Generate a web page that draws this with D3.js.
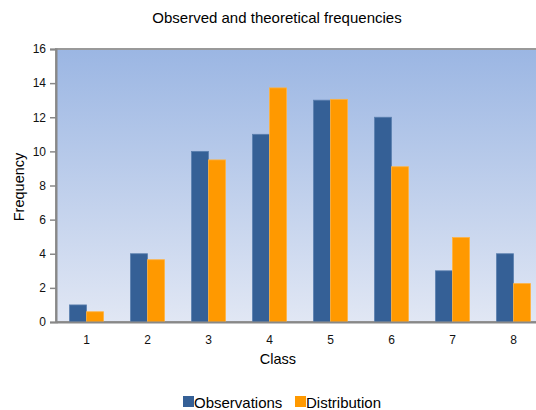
<!DOCTYPE html>
<html>
<head>
<meta charset="utf-8">
<script src="https://cdn.jsdelivr.net/npm/d3@7"></script>
<style>
  body { margin: 0; background: #fff; }
  svg { font-family: "Liberation Sans", Arial, sans-serif; display: block; }
</style>
</head>
<body>
<svg id="root" width="536" height="410"></svg>
<script>
//Chart data
const classes = ["1", "2", "3", "4", "5", "6", "7", "8"];
const observations = [1, 4, 10, 11, 13, 12, 3, 4];
const distribution = [0.6, 3.65, 9.5, 13.72, 13.05, 9.1, 4.95, 2.25];
const yTicks = [0, 2, 4, 6, 8, 10, 12, 14, 16];
const seriesNames = ["Observations", "Distribution"];
const seriesColors = ["#356096", "#ff9900"];

const svg = d3.select("#root");
const margin = { left: 56, top: 49, right: -8, bottom: 88 };
const width = 536 - margin.left - margin.right;
const height = 410 - margin.top - margin.bottom;

//Scales
const x = d3.scaleBand().domain(classes).range([0, width]);
const y = d3.scaleLinear().domain([0, 16]).range([height, 0]);
const inner = d3.scaleBand().domain(seriesNames).range([0, 34]);

//Background gradient
const grad = svg.append("defs").append("linearGradient")
    .attr("id", "bg").attr("x1", 0).attr("y1", 0).attr("x2", 0).attr("y2", 1);
grad.append("stop").attr("offset", "0%").attr("stop-color", "#9bb6e3");
grad.append("stop").attr("offset", "100%").attr("stop-color", "#e1e7f4");

const g = svg.append("g").attr("transform", `translate(${margin.left},${margin.top})`);

g.append("rect")
    .attr("width", width).attr("height", height)
    .attr("fill", "url(#bg)")
    .attr("stroke", "#999").attr("stroke-width", 2);

//Bars
const rows = classes.map((c, i) => ({ c, vals: [observations[i], distribution[i]] }));
g.selectAll(".group")
    .data(rows)
    .enter()
    .append("g")
    .attr("transform", d => `translate(${x(d.c) + (x.bandwidth() - 34) / 2},0)`)
    .selectAll("rect")
    .data(d => d.vals.map((v, k) => ({ v, k })))
    .enter()
    .append("rect")
    .attr("x", d => inner(seriesNames[d.k]))
    .attr("y", d => y(d.v))
    .attr("width", inner.bandwidth())
    .attr("height", d => height - y(d.v))
    .attr("fill", d => seriesColors[d.k])
    .attr("stroke", d => d.k === 0 ? "#5a7fae" : "#ffb240")
    .attr("stroke-width", 0.8);

//Axes
const yAxis = g.append("g")
    .call(d3.axisLeft(y).tickValues(yTicks).tickSize(6).tickPadding(4));
yAxis.select(".domain").attr("stroke", "#888").attr("stroke-width", 2);
yAxis.selectAll(".tick line").attr("stroke", "#888").attr("stroke-width", 1.5);
yAxis.selectAll("text").attr("font-size", 12).attr("fill", "#111");

const xAxis = g.append("g")
    .attr("transform", `translate(0,${height})`)
    .call(d3.axisBottom(x).tickSize(0).tickPadding(13));
xAxis.select(".domain").attr("stroke", "#888").attr("stroke-width", 2);
xAxis.selectAll("text").attr("font-size", 12).attr("fill", "#111");

//Titles
svg.append("text")
    .attr("x", 277).attr("y", 23)
    .attr("text-anchor", "middle")
    .attr("font-size", 15)
    .text("Observed and theoretical frequencies");

svg.append("text")
    .attr("x", 278).attr("y", 364)
    .attr("text-anchor", "middle")
    .attr("font-size", 14.5)
    .text("Class");

svg.append("text")
    .attr("transform", "translate(24,187) rotate(-90)")
    .attr("text-anchor", "middle")
    .attr("font-size", 14.5)
    .text("Frequency");

//Legend
const legend = svg.append("g").attr("transform", "translate(183,396)");
const legendX = [0, 112];
seriesNames.forEach((name, i) => {
    legend.append("rect")
        .attr("x", legendX[i]).attr("y", 0)
        .attr("width", 11).attr("height", 11)
        .attr("fill", seriesColors[i]);
    legend.append("text")
        .attr("x", legendX[i] + 11).attr("y", 11.5)
        .attr("font-size", 15)
        .text(name);
});
</script>
</body>
</html>
